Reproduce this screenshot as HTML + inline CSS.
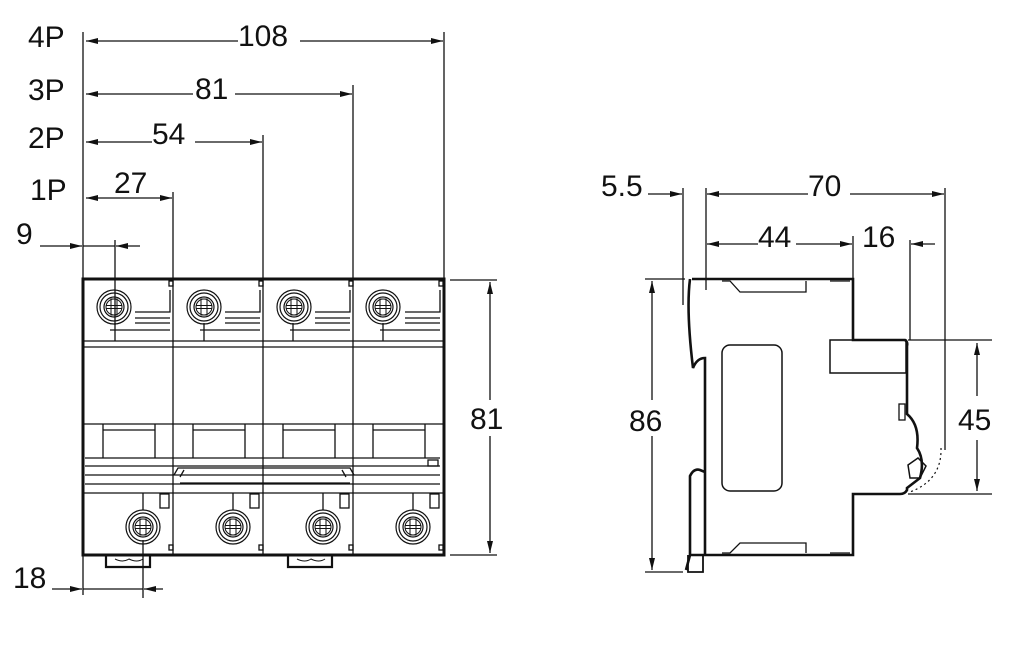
<!DOCTYPE html>
<html><head><meta charset="utf-8"><style>
html,body{margin:0;padding:0;background:#fff;}
svg{display:block;}
text{font-family:"Liberation Sans",Arial,sans-serif;font-size:30px;fill:#111;}
</style></head><body>
<svg width="1024" height="655" viewBox="0 0 1024 655" xmlns="http://www.w3.org/2000/svg">
<defs>
<marker id="a" viewBox="0 0 12 6" refX="12" refY="3" markerWidth="12" markerHeight="6" markerUnits="userSpaceOnUse" orient="auto"><path d="M0,0L12,3L0,6z" fill="#111"/></marker>
<g id="scr">
<circle r="17" fill="none" stroke="#111" stroke-width="1.2"/>
<circle r="14" fill="none" stroke="#111" stroke-width="1.2"/>
<circle r="10" fill="none" stroke="#111" stroke-width="1.2"/>
<circle r="8" fill="none" stroke="#111" stroke-width="1"/>
<rect x="-3" y="-8" width="6" height="16" fill="none" stroke="#111" stroke-width="1"/>
<line x1="-8" y1="-1.5" x2="8" y2="-1.5" stroke="#111"/><line x1="-8" y1="1.5" x2="8" y2="1.5" stroke="#111"/>
</g>
</defs>
<g stroke="#111" stroke-width="1.3" fill="none">
<line x1="83" y1="32" x2="83" y2="280"/>
<line x1="444" y1="32" x2="444" y2="280"/>
<line x1="353" y1="85" x2="353" y2="280"/>
<line x1="263" y1="135" x2="263" y2="280"/>
<line x1="173" y1="192" x2="173" y2="280"/>
<line x1="115" y1="240" x2="115" y2="325"/>
<line x1="83" y1="555" x2="83" y2="595"/>
<line x1="143" y1="540" x2="143" y2="598"/>
<line x1="238" y1="41" x2="86" y2="41" marker-end="url(#a)"/>
<line x1="300" y1="41" x2="443" y2="41" marker-end="url(#a)"/>
<line x1="193" y1="94" x2="86" y2="94" marker-end="url(#a)"/>
<line x1="235" y1="94" x2="352" y2="94" marker-end="url(#a)"/>
<line x1="152" y1="142" x2="86" y2="142" marker-end="url(#a)"/>
<line x1="195" y1="142" x2="262" y2="142" marker-end="url(#a)"/>
<line x1="115" y1="198" x2="86" y2="198" marker-end="url(#a)"/>
<line x1="115" y1="198" x2="172" y2="198" marker-end="url(#a)"/>
<line x1="40" y1="246" x2="82" y2="246" marker-end="url(#a)"/>
<line x1="83" y1="246" x2="115" y2="246"/>
<line x1="140" y1="246" x2="116" y2="246" marker-end="url(#a)"/>
<line x1="52" y1="589" x2="82" y2="589" marker-end="url(#a)"/>
<line x1="83" y1="589" x2="143" y2="589"/>
<line x1="163" y1="589" x2="144" y2="589" marker-end="url(#a)"/>
<line x1="450" y1="280" x2="497" y2="280"/>
<line x1="450" y1="555" x2="497" y2="555"/>
<line x1="490" y1="400" x2="490" y2="282" marker-end="url(#a)"/>
<line x1="490" y1="436" x2="490" y2="553" marker-end="url(#a)"/>
</g>
<g stroke="#111" fill="none">
<rect x="83" y="279" width="361" height="276" stroke-width="3"/>
<g stroke-width="1.3">
<line x1="173" y1="279" x2="173" y2="555"/><line x1="263" y1="279" x2="263" y2="555"/><line x1="353" y1="279" x2="353" y2="555"/>
<line x1="83" y1="341" x2="444" y2="341"/><line x1="83" y1="347" x2="444" y2="347"/>
<line x1="83" y1="424" x2="444" y2="424"/>
<line x1="85" y1="458" x2="440" y2="458"/><line x1="85" y1="466" x2="440" y2="466"/>
<line x1="85" y1="475" x2="440" y2="475"/><line x1="85" y1="484" x2="440" y2="484"/>
<line x1="83" y1="493" x2="444" y2="493"/>
<path d="M174,475 L178,468 L350,468 L354,475 M180,477 L184,470 M346,477 L342,470 M180,483 L350,483"/>
<rect x="428" y="460" width="10" height="6"/>
<g id="ts"><path d="M135,323 L170,323 M135,318 L170,318 M135,312 L170,312 L170,290 M110,330 L170,330"/><rect x="169" y="281" width="4" height="5"/>
<path d="M103,424 L103,458 M155,424 L155,458 M103,430 L155,430"/><rect x="160" y="494" width="9" height="14"/><rect x="169" y="545" width="4" height="5"/></g>
<use href="#ts" x="90"/><use href="#ts" x="180"/><use href="#ts" x="270"/>
<line x1="115" y1="323" x2="115" y2="341"/><line x1="204" y1="323" x2="204" y2="341"/><line x1="293" y1="323" x2="293" y2="341"/><line x1="383" y1="323" x2="383" y2="341"/>
<line x1="143" y1="493" x2="143" y2="510"/><line x1="233" y1="493" x2="233" y2="510"/><line x1="323" y1="493" x2="323" y2="510"/><line x1="413" y1="493" x2="413" y2="510"/>
</g>
<path d="M106,556 L106,567 L150,567 L150,556 M288,556 L288,567 L332,567 L332,556" stroke-width="2.2"/>
<path d="M115,559 q8,4 14,0 q8,4 14,0 M297,559 q8,4 14,0 q8,4 14,0" stroke-width="1"/>
</g>
<use href="#scr" x="114" y="307"/><use href="#scr" x="204" y="307"/><use href="#scr" x="294" y="307"/><use href="#scr" x="383" y="307"/>
<use href="#scr" x="143" y="527"/><use href="#scr" x="233" y="527"/><use href="#scr" x="323" y="527"/><use href="#scr" x="413" y="527"/>
<g stroke="#111" stroke-width="1.3" fill="none">
<line x1="683" y1="188" x2="683" y2="305"/>
<line x1="706" y1="188" x2="706" y2="290"/>
<line x1="945" y1="188" x2="945" y2="450"/>
<line x1="853" y1="236" x2="853" y2="278"/>
<line x1="910" y1="240" x2="910" y2="340"/>
<line x1="648" y1="194" x2="682" y2="194" marker-end="url(#a)"/>
<line x1="808" y1="194" x2="707" y2="194" marker-end="url(#a)"/>
<line x1="850" y1="194" x2="944" y2="194" marker-end="url(#a)"/>
<line x1="758" y1="244" x2="707" y2="244" marker-end="url(#a)"/>
<line x1="796" y1="244" x2="852" y2="244" marker-end="url(#a)"/>
<line x1="935" y1="244" x2="911" y2="244" marker-end="url(#a)"/>
<line x1="645" y1="279" x2="685" y2="279"/>
<line x1="645" y1="572" x2="683" y2="572"/>
<line x1="652" y1="400" x2="652" y2="281" marker-end="url(#a)"/>
<line x1="652" y1="436" x2="652" y2="570" marker-end="url(#a)"/>
<line x1="908" y1="340" x2="992" y2="340"/>
<line x1="908" y1="494" x2="992" y2="494"/>
<line x1="977" y1="396" x2="977" y2="343" marker-end="url(#a)"/>
<line x1="977" y1="440" x2="977" y2="491" marker-end="url(#a)"/>
</g>
<g stroke="#111" fill="none" stroke-width="2.6">
<path d="M692,279 L853,279 L853,340 L905,340 Q908,342 907,346 L907,414 Q920,425 917,448 Q925,460 920,478 L907,488 L907,490 Q905,494 900,494 L853,494 L853,555 L690,555 L686,570 M690,555 L690,476 Q694,468 700,470 L705,472 L705,488 M690,279 Q686,310 693,368 Q697,358 705,358 L705,555"/>
<path d="M688,555 L688,572 L703,572 L703,555" stroke-width="1.8"/>
<rect x="722" y="345" width="60" height="146" rx="8" stroke-width="1.5"/>
<rect x="830" y="340" width="76" height="33" stroke-width="1.5"/>
<path d="M722,281 L730,281 L740,292 L806,292 L806,281 M830,281 L850,281 M722,553 L730,553 L740,543 L806,543 L806,553 M830,553 L850,553" stroke-width="1.3"/>
<rect x="899" y="404" width="6" height="16" stroke-width="1.3"/>
<path d="M908,465 L918,458 L926,466 L920,478 L910,478 z" stroke-width="1.5"/>
<path d="M941,448 Q942,480 910,492" stroke-width="1.2" stroke-dasharray="2,3"/>
</g>
<g>
<text x="28" y="47">4P</text><text x="28" y="100">3P</text><text x="28" y="148">2P</text><text x="30" y="200">1P</text><text x="16" y="244">9</text>
<text x="238" y="46">108</text><text x="195" y="99">81</text><text x="152" y="144">54</text><text x="114" y="193">27</text>
<text x="13" y="588">18</text><text x="470" y="429">81</text>
<text x="601" y="196">5.5</text><text x="808" y="196">70</text><text x="758" y="247">44</text><text x="862" y="247">16</text>
<text x="629" y="431">86</text><text x="958" y="430">45</text>
</g>
</svg>
</body></html>
